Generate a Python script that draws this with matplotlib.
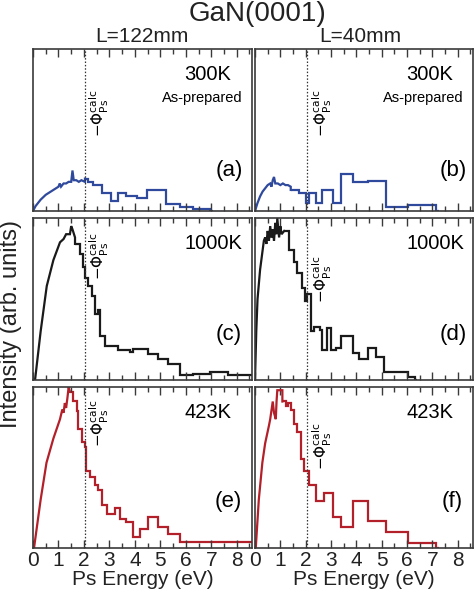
import matplotlib
matplotlib.use("Agg")
import matplotlib.pyplot as plt
from matplotlib.ticker import MultipleLocator
import matplotlib.transforms as mtransforms

plt.rcParams['font.family'] = ['Liberation Sans', 'DejaVu Sans']

# ---------------- data (intensity in arbitrary units) ----------------
# low-energy part (fine bins, drawn as a line) and coarse histogram bins
rise_x_a = [0.0, 0.1, 0.2, 0.3, 0.4, 0.5, 0.6, 0.7, 0.8, 0.9, 1.0, 1.05, 1.1, 1.2, 1.3, 1.4, 1.5,
            1.55, 1.6, 1.7, 1.8, 1.9, 2.04]
rise_y_a = [0.0, 0.03, 0.05, 0.07, 0.085, 0.10, 0.11, 0.12, 0.13, 0.14, 0.15, 0.17, 0.15, 0.17,
            0.17, 0.18, 0.18, 0.25, 0.19, 0.19, 0.18, 0.19, 0.18]
edges_a = [2.04, 2.17, 2.37, 2.69, 3.08, 3.35, 3.67, 4.07, 4.46, 4.92, 5.24, 5.76, 6.29, 6.94, 7.05]
vals_a = [0.20, 0.18, 0.16, 0.11, 0.06, 0.11, 0.09, 0.08, 0.13, 0.13, 0.045, 0.027, 0.015, 0.0]

rise_x_b = [0.0, 0.1, 0.2, 0.3, 0.4, 0.5, 0.6, 0.65, 0.7, 0.75, 0.8, 0.9, 1.0, 1.1, 1.2, 1.3, 1.41]
rise_y_b = [0.0, 0.05, 0.09, 0.12, 0.14, 0.16, 0.17, 0.15, 0.19, 0.21, 0.17, 0.17, 0.16, 0.17,
            0.16, 0.16, 0.15]
edges_b = [1.41, 1.74, 2.0, 2.13, 2.4, 2.66, 3.06, 3.39, 3.85, 4.44, 5.16, 6.02, 7.14, 7.25]
vals_b = [0.13, 0.11, 0.05, 0.11, 0.05, 0.13, 0.05, 0.23, 0.18, 0.185, 0.027, 0.04, 0.0]

rise_x_c = [0.08, 0.3, 0.54, 0.8, 1.06, 1.2, 1.3, 1.45, 1.5, 1.55, 1.65]
rise_y_c = [0.0, 0.3, 0.58, 0.74, 0.85, 0.87, 0.90, 0.90, 0.95, 0.93, 0.88]
edges_c = [1.65, 1.84, 1.97, 2.04, 2.17, 2.3, 2.43, 2.56, 2.65, 2.82, 3.35, 3.8, 3.93, 4.52, 4.9,
           5.3, 5.77, 6.29, 6.94, 7.66, 8.8]
vals_c = [0.84, 0.78, 0.70, 0.63, 0.58, 0.52, 0.41, 0.43, 0.27, 0.21, 0.185, 0.17, 0.19, 0.16,
          0.13, 0.10, 0.03, 0.04, 0.05, 0.03]

rise_x_d = [0.0, 0.05, 0.1, 0.2, 0.3, 0.35, 0.4, 0.45, 0.5, 0.55, 0.6, 0.65, 0.7, 0.75, 0.8, 0.85,
            0.88, 0.95, 1.0, 1.05, 1.15]
rise_y_d = [0.0, 0.30, 0.50, 0.68, 0.80, 0.86, 0.88, 0.84, 0.92, 0.86, 0.95, 0.88, 0.93, 0.86,
            0.97, 0.90, 1.0, 0.88, 0.95, 0.90, 0.92]
edges_d = [1.15, 1.34, 1.54, 1.67, 1.87, 1.97, 2.07, 2.2, 2.33, 2.55, 2.66, 2.86, 2.99, 3.19, 3.39,
           3.85, 4.11, 4.44, 4.77, 5.1, 6.02, 6.3, 6.4]
vals_d = [0.92, 0.80, 0.73, 0.66, 0.57, 0.49, 0.53, 0.30, 0.33, 0.31, 0.185, 0.32, 0.185, 0.20,
          0.27, 0.165, 0.13, 0.20, 0.14, 0.05, 0.02, 0.0]

rise_x_e = [0.04, 0.3, 0.53, 0.8, 1.06, 1.15, 1.2, 1.25, 1.3, 1.35, 1.4, 1.45]
rise_y_e = [0.0, 0.3, 0.53, 0.68, 0.80, 0.86, 0.84, 0.90, 0.87, 0.93, 1.0, 0.97]
edges_e = [1.45, 1.58, 1.71, 1.78, 1.91, 2.04, 2.1, 2.24, 2.43, 2.56, 2.69, 2.89, 3.22, 3.41, 3.67,
           3.93, 4.2, 4.52, 4.9, 5.3, 5.77, 7.7, 8.8]
vals_e = [0.97, 0.91, 0.85, 0.74, 0.66, 0.63, 0.48, 0.44, 0.39, 0.36, 0.27, 0.21, 0.25, 0.18, 0.16,
          0.07, 0.12, 0.19, 0.13, 0.087, 0.04, 0.035]

rise_x_f = [0.03, 0.15, 0.29, 0.4, 0.55, 0.6, 0.7, 0.75, 0.82, 0.85, 0.88, 1.08]
rise_y_f = [0.0, 0.3, 0.53, 0.65, 0.76, 0.80, 0.91, 0.84, 0.80, 0.91, 0.98, 0.98]
edges_f = [1.08, 1.21, 1.3, 1.41, 1.54, 1.67, 1.8, 1.93, 2.13, 2.4, 2.73, 3.06, 3.39, 3.85, 4.44,
           5.16, 6.02, 7.14, 7.25]
vals_f = [0.91, 0.88, 0.90, 0.86, 0.77, 0.72, 0.55, 0.48, 0.39, 0.29, 0.34, 0.19, 0.13, 0.29, 0.17,
          0.10, 0.03, 0.0]

temperatures = ['300K', '300K', '1000K', '1000K', '423K', '423K']
letters = ['(a)', '(b)', '(c)', '(d)', '(e)', '(f)']
BLUE, BLACK, RED = '#2f4a9c', '#1a1a1a', '#b3202a'

panels = [
    (rise_x_a, rise_y_a, edges_a, vals_a, BLUE),
    (rise_x_b, rise_y_b, edges_b, vals_b, BLUE),
    (rise_x_c, rise_y_c, edges_c, vals_c, BLACK),
    (rise_x_d, rise_y_d, edges_d, vals_d, BLACK),
    (rise_x_e, rise_y_e, edges_e, vals_e, RED),
    (rise_x_f, rise_y_f, edges_f, vals_f, RED),
]
phi_top = [0.75, 0.75, 0.91, 0.77, 0.92, 0.78]
temp_x = [0.905, 0.91, 0.955, 0.96, 0.905, 0.91]
letter_x = [0.96, 0.97, 0.955, 0.97, 0.955, 0.955]
letter_y = [0.25, 0.25, 0.28, 0.28, 0.29, 0.29]
phi_x = [2.05, 2.07, 2.05, 2.07, 2.05, 2.07]

W, H = 474, 592
fig = plt.figure(figsize=(W / 100, H / 100), dpi=100)

lefts = [33, 255]
widths = [219, 218]
rows = [(49, 211), (218, 380), (387, 548)]

edge_col = '#3a3a3a'
for i, (rx, ry, edges, vals, col) in enumerate(panels):
    r, c = divmod(i, 2)
    top, bot = rows[r]
    ax = fig.add_axes([lefts[c] / W, 1 - bot / H, widths[c] / W, (bot - top) / H])
    ax.plot(rx + [edges[0]], ry + [vals[0]], color=col, lw=1.6, solid_joinstyle='miter')
    ax.stairs(vals, edges, baseline=None, color=col, lw=1.6)
    ax.set_xlim(0, 8.6)
    ax.set_ylim(0, 1.0)
    ax.axvline(phi_x[i], color='#333333', lw=0.9, ls=(0, (1.2, 1.5)))
    trans = mtransforms.blended_transform_factory(ax.transData, ax.transAxes)
    ax.text(phi_x[i] + 0.12, phi_top[i], r'$-\Phi_{\rm Ps}^{\rm calc}$', rotation=90,
            transform=trans, ha='left', va='top', fontsize=11)
    ax.text(temp_x[i], 0.84, temperatures[i], transform=ax.transAxes, ha='right', va='center',
            fontsize=14.5)
    if r == 0:
        ax.text(0.955, 0.70, 'As-prepared', transform=ax.transAxes, ha='right', va='center',
                fontsize=10.5)
    ax.text(letter_x[i], letter_y[i], letters[i], transform=ax.transAxes, ha='right', va='center',
            fontsize=16)
    ax.xaxis.set_major_locator(MultipleLocator(1))
    ax.xaxis.set_minor_locator(MultipleLocator(0.5))
    ax.tick_params(axis='x', which='both', direction='in', top=True, bottom=True,
                   color=edge_col, width=1)
    ax.tick_params(axis='x', which='major', length=6)
    ax.tick_params(axis='x', which='minor', length=3.5)
    ax.tick_params(axis='y', left=False, labelleft=False)
    for s in ax.spines.values():
        s.set_color(edge_col)
        s.set_linewidth(1.2)
    if r == 2:
        ax.tick_params(axis='x', labelsize=15, pad=2, labelcolor='#222222')
        ax.set_xlabel('Ps Energy (eV)', fontsize=15, labelpad=0, color='#222222')
    else:
        ax.tick_params(axis='x', labelbottom=False)

fig.text(257 / W, 1 - 14 / H, 'GaN(0001)', ha='center', va='center', fontsize=20, color='#222222')
fig.text(142 / W, 1 - 37 / H, 'L=122mm', ha='center', va='center', fontsize=15, color='#222222')
fig.text(360 / W, 1 - 37 / H, 'L=40mm', ha='center', va='center', fontsize=15, color='#222222')
fig.text(11 / W, 1 - 324 / H, 'Intensity (arb. units)', rotation=90, ha='center', va='center',
         fontsize=17, color='#222222')

fig.savefig('out.png', dpi=100)
